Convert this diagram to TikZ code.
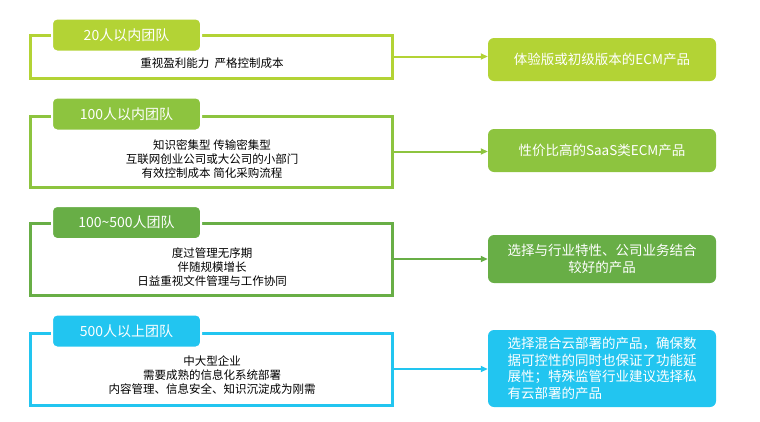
\documentclass[tikz,border=0pt]{standalone}
\usepackage{fontspec}
\setmainfont{Noto Sans CJK SC}
\usetikzlibrary{positioning,arrows.meta}
\definecolor{teamS}{HTML}{B3D335}
\definecolor{teamM}{HTML}{8DC43F}
\definecolor{teamL}{HTML}{68AE46}
\definecolor{teamXL}{HTML}{22C5F0}
\tikzset{
  frame/.style={rectangle,draw=#1,line width=3pt,minimum width=362pt},
  tag/.style={rectangle,rounded corners=5pt,fill=#1,draw=white,line width=2pt,
    minimum width=149pt,minimum height=33pt,text=white,font=\fontsize{14}{16}\selectfont},
  body/.style={align=center,font=\fontsize{11.5}{14}\selectfont,inner sep=0pt},
  product/.style={rectangle,rounded corners=6pt,fill=#1,minimum width=228pt,
    text=white,font=\fontsize{13.5}{16.5}\selectfont},
  link/.style={draw=#1,line width=2pt,-{Triangle[length=7pt,width=6pt]}}
}
\begin{document}
\begin{tikzpicture}[x=1pt,y=-1pt]
    \useasboundingbox (0,0) rectangle (760,421);
    % teams
    \node at (211, 56.5) [frame=teamS, minimum height=43pt] (f1) {};
    \node at (211, 151.5) [frame=teamM, minimum height=71pt] (f2) {};
    \node at (211, 259) [frame=teamL, minimum height=72pt] (f3) {};
    \node at (211, 369) [frame=teamXL, minimum height=72pt] (f4) {};

    \node at (126.5, 35) [tag=teamS] (t1) {20人以内团队};
    \node at (126.5, 114) [tag=teamM] (t2) {100人以内团队};
    \node at (126.5, 222.5) [tag=teamL] (t3) {100\textasciitilde500人团队};
    \node at (126.5, 331) [tag=teamXL] (t4) {500人以上团队};

    \node at (212, 63) [body] (b1) {重视盈利能力\ \ 严格控制成本};
    \node at (212, 159) [body] (b2) {知识密集型 传输密集型\\互联网创业公司或大公司的小部门\\有效控制成本 简化采购流程};
    \node at (212, 267) [body] (b3) {度过管理无序期\\伴随规模增长\\日益重视文件管理与工作协同};
    \node at (212, 375) [body] (b4) {中大型企业\\需要成熟的信息化系统部署\\内容管理、信息安全、知识沉淀成为刚需};

    % products
    \node at (602, 59.5) [product=teamS, minimum height=43pt] (p1) {体验版或初级版本的ECM产品};
    \node at (602, 150.5) [product=teamM, minimum height=43pt] (p2) {性价比高的SaaS类ECM产品};
    \node at (602, 259) [product=teamL, minimum height=48pt, align=center] (p3) {选择与行业特性、公司业务结合\\较好的产品};
    \node at (602, 368.5) [product=teamXL, minimum height=77pt, align=left] (p4) {选择混合云部署的产品，确保数\\据可控性的同时也保证了功能延\\展性；特殊监管行业建议选择私\\有云部署的产品};

    \draw[link=teamS] (f1.east) -- (f1.east -| p1.west);
    \draw[link=teamM] (f2.east) -- (f2.east -| p2.west);
    \draw[link=teamL] (f3.east) -- (f3.east -| p3.west);
    \draw[link=teamXL] (f4.east) -- (f4.east -| p4.west);
\end{tikzpicture}
\end{document}
